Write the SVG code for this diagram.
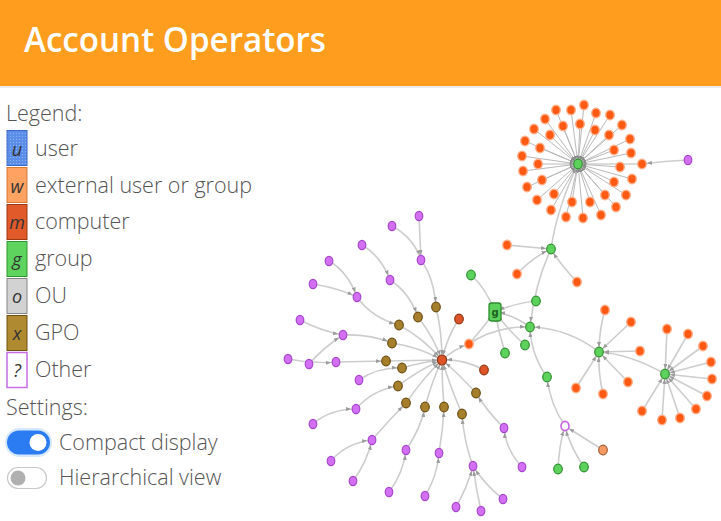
<svg xmlns="http://www.w3.org/2000/svg" width="721" height="521" viewBox="0 0 721 521">
<style>
.e{fill:none;stroke:#cdcdcd;stroke-width:1.6;marker-end:url(#arr)}
.et{fill:none;stroke:#b9b9b9;stroke-width:1;marker-end:url(#arrs)}
.ext{fill:#ff5a14;stroke:#ffae88;stroke-width:1.4}
.grp{fill:#5cd15c;stroke:#2f8f2f;stroke-width:1.2}
.cmp{fill:#dd5428;stroke:#8e3412;stroke-width:1.2}
.gpo{fill:#a67f2c;stroke:#6b4d12;stroke-width:1.2}
.oth{fill:#d36ff2;stroke:#a646cc;stroke-width:1.2}
.hol{fill:#fff;stroke:#c55fe6;stroke-width:1.6}
.lext{fill:#f59a63;stroke:#a05a30;stroke-width:1.2}
.lt{font-family:"Open Sans","Noto Sans","DejaVu Sans",sans-serif;font-weight:300;font-size:21.5px;fill:#555}
.bl{font-family:"Open Sans","Noto Sans",sans-serif;font-style:italic;font-size:18px;fill:#333;text-anchor:middle}
</style>
<defs>
<marker id="arr" viewBox="0 0 5 4" refX="10" refY="2" markerWidth="5" markerHeight="4" markerUnits="userSpaceOnUse" orient="auto"><path d="M0,0 L5,2 L0,4z" fill="#9c9c9c"/></marker>
<marker id="arrs" viewBox="0 0 4 3" refX="8.5" refY="1.5" markerWidth="4" markerHeight="3" markerUnits="userSpaceOnUse" orient="auto"><path d="M0,0 L4,1.5 L0,3z" fill="#8a8a8a"/></marker>
<pattern id="dots" width="3" height="3" patternUnits="userSpaceOnUse"><rect width="3" height="3" fill="#5b8ee8"/><rect x="1" y="1" width="1" height="1" fill="#8fb4f4"/></pattern>
</defs>
<rect width="721" height="521" fill="#fff"/>
<g id="header">
<rect x="0" y="0" width="721" height="86" fill="#ff9d1e"/>
<rect x="0" y="86" width="721" height="2" fill="#ececec"/>
<text x="24" y="52" font-family="'Open Sans','Noto Sans',sans-serif" font-weight="600" font-size="34" fill="#fff" textLength="302" lengthAdjust="spacingAndGlyphs">Account Operators</text>
</g>
<g id="legend">
<text class="lt" x="6" y="121">Legend:</text>
<rect x="7" y="130.5" width="20" height="35" fill="url(#dots)" stroke="#3a68c4"/>
<text class="bl" x="17" y="156">u</text><text class="lt" x="35" y="156">user</text>
<rect x="7" y="167.5" width="20" height="35" fill="#ffa262" stroke="#d97a34"/>
<text class="bl" x="17" y="193">w</text><text class="lt" x="35" y="193">external user or group</text>
<rect x="7" y="204.5" width="20" height="35" fill="#e05a2a" stroke="#9e3a12"/>
<text class="bl" x="17" y="229">m</text><text class="lt" x="35" y="229">computer</text>
<rect x="7" y="241.5" width="20" height="35" fill="#5ed45e" stroke="#2e962e"/>
<text class="bl" x="17" y="266">g</text><text class="lt" x="35" y="266">group</text>
<rect x="7" y="278.5" width="20" height="35" fill="#d2d2d2" stroke="#858585"/>
<text class="bl" x="17" y="303">o</text><text class="lt" x="35" y="303">OU</text>
<rect x="7" y="315.5" width="20" height="35" fill="#b08a30" stroke="#6e5010"/>
<text class="bl" x="17" y="340">x</text><text class="lt" x="35" y="340">GPO</text>
<rect x="7" y="352.5" width="20" height="35" fill="#fff" stroke="#c46ee2" stroke-width="1.5"/>
<text class="bl" x="17" y="377">?</text><text class="lt" x="35" y="377">Other</text>
<text class="lt" x="6" y="415">Settings:</text>
<rect x="5" y="428" width="47" height="29" rx="14.5" fill="#d6e8ff"/>
<rect x="7" y="430.5" width="43" height="24" rx="12" fill="#2b7cf2"/>
<circle cx="38" cy="442.5" r="8.5" fill="#fff"/>
<text class="lt" x="59" y="450">Compact display</text>
<rect x="7.5" y="467.5" width="39" height="21" rx="10.5" fill="#fff" stroke="#c8c8c8" stroke-width="1.2"/>
<circle cx="18" cy="478" r="7.5" fill="#b0b0b0"/>
<text class="lt" x="59" y="485">Hierarchical view</text>
</g>
<g id="connectors">
<path class="et" d="M584,105L578,164"/><path class="et" d="M571,110L578,164"/><path class="et" d="M556,110L578,164"/><path class="et" d="M596,113L578,164"/><path class="et" d="M610,115L578,164"/><path class="et" d="M545,119L578,164"/><path class="et" d="M622,125L578,164"/><path class="et" d="M534,129L578,164"/><path class="et" d="M630,139L578,164"/><path class="et" d="M525,141L578,164"/><path class="et" d="M631,153L578,164"/><path class="et" d="M522,156L578,164"/><path class="et" d="M642,164L578,164"/><path class="et" d="M523,171L578,164"/><path class="et" d="M632,179L578,164"/><path class="et" d="M527,187L578,164"/><path class="et" d="M626,195L578,164"/><path class="et" d="M537,200L578,164"/><path class="et" d="M616,207L578,164"/><path class="et" d="M551,210L578,164"/><path class="et" d="M601,215L578,164"/><path class="et" d="M566,217L578,164"/><path class="et" d="M583,218L578,164"/>
<path class="et" d="M580,124L578,164"/><path class="et" d="M563,126L578,164"/><path class="et" d="M595,130L578,164"/><path class="et" d="M550,135L578,164"/><path class="et" d="M609,135L578,164"/><path class="et" d="M540,148L578,164"/><path class="et" d="M614,150L578,164"/><path class="et" d="M538,164L578,164"/><path class="et" d="M620,167L578,164"/><path class="et" d="M542,180L578,164"/><path class="et" d="M614,182L578,164"/><path class="et" d="M554,194L578,164"/><path class="et" d="M605,195L578,164"/><path class="et" d="M572,202L578,164"/><path class="et" d="M590,202L578,164"/>
<path class="e" d="M688,160Q665,161 642,164"/>
<path class="e" d="M419,216L421,260"/>
<path class="e" d="M392,226Q414,238 421,260"/>
<path class="e" d="M421,260Q434,278 436,307"/>
<path class="e" d="M362,245Q381,256 390,280"/>
<path class="e" d="M390,280Q409,292 418,317"/>
<path class="e" d="M329,261Q348,272 357,297"/>
<path class="e" d="M313,284Q338,288 357,297"/>
<path class="e" d="M357,297Q372,318 399,325"/>
<path class="e" d="M300,320Q321,331 343,335"/>
<path class="e" d="M309,364Q324,347 343,335"/>
<path class="e" d="M288,359Q312,364 336,362"/>
<path class="e" d="M343,335Q370,334 392,343"/>
<path class="e" d="M336,362L386,361"/>
<path class="e" d="M359,380Q377,367 402,368"/>
<path class="e" d="M313,424Q330,409 356,409"/>
<path class="e" d="M356,409Q372,390 398,386"/>
<path class="e" d="M331,461Q346,443 372,440"/>
<path class="e" d="M353,481Q367,462 372,440"/>
<path class="e" d="M372,440Q389,420 406,403"/>
<path class="e" d="M389,492Q403,474 406,450"/>
<path class="e" d="M406,450Q421,428 425,407"/>
<path class="e" d="M425,496Q437,477 439,453"/>
<path class="e" d="M439,453Q443,430 444,407"/>
<path class="e" d="M456,507Q467,488 473,466"/>
<path class="e" d="M481,511Q476,488 473,466"/>
<path class="e" d="M503,499Q485,485 473,466"/>
<path class="e" d="M473,466Q464,442 462,414"/>
<path class="e" d="M522,467Q506,450 504,428"/>
<path class="e" d="M504,428Q486,410 476,393"/>
<path class="e" d="M436,307Q442,332 442,360"/>
<path class="e" d="M418,317Q433,336 442,360"/>
<path class="e" d="M399,325Q423,338 442,360"/>
<path class="e" d="M392,343Q419,347 442,360"/>
<path class="e" d="M386,361L442,360"/>
<path class="e" d="M402,368Q422,362 442,360"/>
<path class="e" d="M398,386Q420,369 442,360"/>
<path class="e" d="M406,403Q423,378 442,360"/>
<path class="e" d="M425,407Q432,381 442,360"/>
<path class="e" d="M444,407Q442,384 442,360"/>
<path class="e" d="M462,414Q450,386 442,360"/>
<path class="e" d="M476,393Q458,373 442,360"/>
<path class="e" d="M459,319Q447,337 442,360"/>
<path class="e" d="M484,370Q464,359 442,360"/>
<path class="e" d="M442,360Q454,349 469,344"/>
<path class="e" d="M471,275Q486,288 495,312"/>
<path class="e" d="M469,344Q482,329 495,312"/>
<path class="e" d="M505,353Q499,333 495,312"/>
<path class="e" d="M536,301Q514,303 495,312"/>
<path class="e" d="M530,327Q512,314 495,312"/>
<path class="e" d="M525,345Q508,330 495,312"/>
<path class="e" d="M551,249Q535,283 530,327"/>
<path class="e" d="M507,245L551,249"/>
<path class="e" d="M517,274Q533,257 551,249"/>
<path class="e" d="M577,282Q560,264 551,249"/>
<path class="e" d="M551,249Q557,208 578,164"/>
<path class="e" d="M469,344Q495,326 530,327"/>
<path class="e" d="M599,352Q568,328 530,327"/>
<path class="e" d="M665,374Q630,354 599,352"/>
<path class="e" d="M547,377Q531,355 530,327"/>
<path class="e" d="M565,426Q550,404 547,377"/>
<path class="e" d="M558,469Q559,445 565,426"/>
<path class="e" d="M584,467Q570,447 565,426"/>
<path class="e" d="M603,450L565,426"/>
<path class="e" d="M605,310Q599,330 599,352"/>
<path class="e" d="M631,322L599,352"/>
<path class="e" d="M640,351L599,352"/>
<path class="e" d="M628,382L599,352"/>
<path class="e" d="M603,394Q598,373 599,352"/>
<path class="e" d="M576,388L599,352"/>
<path class="e" d="M667,329L665,374"/>
<path class="e" d="M688,334L665,374"/>
<path class="e" d="M703,346L665,374"/>
<path class="e" d="M711,362L665,374"/>
<path class="e" d="M712,379L665,374"/>
<path class="e" d="M707,396L665,374"/>
<path class="e" d="M696,409L665,374"/>
<path class="e" d="M680,418L665,374"/>
<path class="e" d="M662,420L665,374"/>
<path class="e" d="M642,411L665,374"/>
</g>
<g id="nodes">
<g id="top-hub"><ellipse class="grp" cx="578" cy="164" rx="4.3" ry="4.8"/></g>
<g id="t1"><ellipse class="ext" cx="584" cy="105" rx="4.3" ry="4.8"/></g>
<g id="t2"><ellipse class="ext" cx="571" cy="110" rx="4.3" ry="4.8"/></g>
<g id="t3"><ellipse class="ext" cx="556" cy="110" rx="4.3" ry="4.8"/></g>
<g id="t4"><ellipse class="ext" cx="596" cy="113" rx="4.3" ry="4.8"/></g>
<g id="t5"><ellipse class="ext" cx="610" cy="115" rx="4.3" ry="4.8"/></g>
<g id="t6"><ellipse class="ext" cx="545" cy="119" rx="4.3" ry="4.8"/></g>
<g id="t7"><ellipse class="ext" cx="622" cy="125" rx="4.3" ry="4.8"/></g>
<g id="t8"><ellipse class="ext" cx="534" cy="129" rx="4.3" ry="4.8"/></g>
<g id="t9"><ellipse class="ext" cx="630" cy="139" rx="4.3" ry="4.8"/></g>
<g id="t10"><ellipse class="ext" cx="525" cy="141" rx="4.3" ry="4.8"/></g>
<g id="t11"><ellipse class="ext" cx="631" cy="153" rx="4.3" ry="4.8"/></g>
<g id="t12"><ellipse class="ext" cx="522" cy="156" rx="4.3" ry="4.8"/></g>
<g id="t13"><ellipse class="ext" cx="642" cy="164" rx="4.3" ry="4.8"/></g>
<g id="t14"><ellipse class="ext" cx="523" cy="171" rx="4.3" ry="4.8"/></g>
<g id="t15"><ellipse class="ext" cx="632" cy="179" rx="4.3" ry="4.8"/></g>
<g id="t16"><ellipse class="ext" cx="527" cy="187" rx="4.3" ry="4.8"/></g>
<g id="t17"><ellipse class="ext" cx="626" cy="195" rx="4.3" ry="4.8"/></g>
<g id="t18"><ellipse class="ext" cx="537" cy="200" rx="4.3" ry="4.8"/></g>
<g id="t19"><ellipse class="ext" cx="616" cy="207" rx="4.3" ry="4.8"/></g>
<g id="t20"><ellipse class="ext" cx="551" cy="210" rx="4.3" ry="4.8"/></g>
<g id="t21"><ellipse class="ext" cx="601" cy="215" rx="4.3" ry="4.8"/></g>
<g id="t22"><ellipse class="ext" cx="566" cy="217" rx="4.3" ry="4.8"/></g>
<g id="t23"><ellipse class="ext" cx="583" cy="218" rx="4.3" ry="4.8"/></g>
<g id="t24"><ellipse class="ext" cx="580" cy="124" rx="4.3" ry="4.8"/></g>
<g id="t25"><ellipse class="ext" cx="563" cy="126" rx="4.3" ry="4.8"/></g>
<g id="t26"><ellipse class="ext" cx="595" cy="130" rx="4.3" ry="4.8"/></g>
<g id="t27"><ellipse class="ext" cx="550" cy="135" rx="4.3" ry="4.8"/></g>
<g id="t28"><ellipse class="ext" cx="609" cy="135" rx="4.3" ry="4.8"/></g>
<g id="t29"><ellipse class="ext" cx="540" cy="148" rx="4.3" ry="4.8"/></g>
<g id="t30"><ellipse class="ext" cx="614" cy="150" rx="4.3" ry="4.8"/></g>
<g id="t31"><ellipse class="ext" cx="538" cy="164" rx="4.3" ry="4.8"/></g>
<g id="t32"><ellipse class="ext" cx="620" cy="167" rx="4.3" ry="4.8"/></g>
<g id="t33"><ellipse class="ext" cx="542" cy="180" rx="4.3" ry="4.8"/></g>
<g id="t34"><ellipse class="ext" cx="614" cy="182" rx="4.3" ry="4.8"/></g>
<g id="t35"><ellipse class="ext" cx="554" cy="194" rx="4.3" ry="4.8"/></g>
<g id="t36"><ellipse class="ext" cx="605" cy="195" rx="4.3" ry="4.8"/></g>
<g id="t37"><ellipse class="ext" cx="572" cy="202" rx="4.3" ry="4.8"/></g>
<g id="t38"><ellipse class="ext" cx="590" cy="202" rx="4.3" ry="4.8"/></g>
<g id="t39"><ellipse class="oth" cx="688" cy="160" rx="3.8" ry="4.6"/></g>
<g id="hub"><ellipse class="cmp" cx="442" cy="360" rx="4.6" ry="5"/></g>
<g id="c1"><ellipse class="cmp" cx="459" cy="319" rx="4.3" ry="4.8"/></g>
<g id="c2"><ellipse class="cmp" cx="484" cy="370" rx="4.3" ry="4.8"/></g>
<g id="b1"><ellipse class="gpo" cx="436" cy="307" rx="4.3" ry="4.8"/></g>
<g id="b2"><ellipse class="gpo" cx="418" cy="317" rx="4.3" ry="4.8"/></g>
<g id="b3"><ellipse class="gpo" cx="399" cy="325" rx="4.3" ry="4.8"/></g>
<g id="b4"><ellipse class="gpo" cx="392" cy="343" rx="4.3" ry="4.8"/></g>
<g id="b5"><ellipse class="gpo" cx="386" cy="361" rx="4.3" ry="4.8"/></g>
<g id="b6"><ellipse class="gpo" cx="402" cy="368" rx="4.3" ry="4.8"/></g>
<g id="b7"><ellipse class="gpo" cx="398" cy="386" rx="4.3" ry="4.8"/></g>
<g id="b8"><ellipse class="gpo" cx="406" cy="403" rx="4.3" ry="4.8"/></g>
<g id="b9"><ellipse class="gpo" cx="425" cy="407" rx="4.3" ry="4.8"/></g>
<g id="b10"><ellipse class="gpo" cx="444" cy="407" rx="4.3" ry="4.8"/></g>
<g id="b11"><ellipse class="gpo" cx="462" cy="414" rx="4.3" ry="4.8"/></g>
<g id="b12"><ellipse class="gpo" cx="476" cy="393" rx="4.3" ry="4.8"/></g>
<g id="p1"><ellipse class="oth" cx="419" cy="216" rx="3.8" ry="4.6"/></g>
<g id="p2"><ellipse class="oth" cx="392" cy="226" rx="3.8" ry="4.6"/></g>
<g id="p3"><ellipse class="oth" cx="362" cy="245" rx="3.8" ry="4.6"/></g>
<g id="p4"><ellipse class="oth" cx="421" cy="260" rx="3.8" ry="4.6"/></g>
<g id="p5"><ellipse class="oth" cx="329" cy="261" rx="3.8" ry="4.6"/></g>
<g id="p6"><ellipse class="oth" cx="390" cy="280" rx="3.8" ry="4.6"/></g>
<g id="p7"><ellipse class="oth" cx="313" cy="284" rx="3.8" ry="4.6"/></g>
<g id="p8"><ellipse class="oth" cx="357" cy="297" rx="3.8" ry="4.6"/></g>
<g id="p9"><ellipse class="oth" cx="300" cy="320" rx="3.8" ry="4.6"/></g>
<g id="p10"><ellipse class="oth" cx="343" cy="335" rx="3.8" ry="4.6"/></g>
<g id="p11"><ellipse class="oth" cx="288" cy="359" rx="3.8" ry="4.6"/></g>
<g id="p12"><ellipse class="oth" cx="309" cy="364" rx="3.8" ry="4.6"/></g>
<g id="p13"><ellipse class="oth" cx="336" cy="362" rx="3.8" ry="4.6"/></g>
<g id="p14"><ellipse class="oth" cx="359" cy="380" rx="3.8" ry="4.6"/></g>
<g id="p15"><ellipse class="oth" cx="356" cy="409" rx="3.8" ry="4.6"/></g>
<g id="p16"><ellipse class="oth" cx="313" cy="424" rx="3.8" ry="4.6"/></g>
<g id="p17"><ellipse class="oth" cx="372" cy="440" rx="3.8" ry="4.6"/></g>
<g id="p18"><ellipse class="oth" cx="406" cy="450" rx="3.8" ry="4.6"/></g>
<g id="p19"><ellipse class="oth" cx="439" cy="453" rx="3.8" ry="4.6"/></g>
<g id="p20"><ellipse class="oth" cx="504" cy="428" rx="3.8" ry="4.6"/></g>
<g id="p21"><ellipse class="oth" cx="522" cy="467" rx="3.8" ry="4.6"/></g>
<g id="p22"><ellipse class="oth" cx="473" cy="466" rx="3.8" ry="4.6"/></g>
<g id="p23"><ellipse class="oth" cx="331" cy="461" rx="3.8" ry="4.6"/></g>
<g id="p24"><ellipse class="oth" cx="353" cy="481" rx="3.8" ry="4.6"/></g>
<g id="p25"><ellipse class="oth" cx="389" cy="492" rx="3.8" ry="4.6"/></g>
<g id="p26"><ellipse class="oth" cx="425" cy="496" rx="3.8" ry="4.6"/></g>
<g id="p27"><ellipse class="oth" cx="456" cy="507" rx="3.8" ry="4.6"/></g>
<g id="p28"><ellipse class="oth" cx="481" cy="511" rx="3.8" ry="4.6"/></g>
<g id="p29"><ellipse class="oth" cx="503" cy="499" rx="3.8" ry="4.6"/></g>
<g id="account-operators"><rect x="489" y="303" width="12" height="18" rx="2.5" fill="#5cd15c" stroke="#2f8f2f" stroke-width="1.3"/><text x="495" y="316" font-family="'DejaVu Sans',sans-serif" font-size="10" font-weight="bold" fill="#1f5f1f" text-anchor="middle">g</text></g>
<g id="g1"><ellipse class="grp" cx="551" cy="249" rx="4.3" ry="4.8"/></g>
<g id="g2"><ellipse class="grp" cx="471" cy="275" rx="4.3" ry="4.8"/></g>
<g id="g3"><ellipse class="grp" cx="536" cy="301" rx="4.3" ry="4.8"/></g>
<g id="g4"><ellipse class="grp" cx="530" cy="327" rx="4.3" ry="4.8"/></g>
<g id="g5"><ellipse class="grp" cx="525" cy="345" rx="4.3" ry="4.8"/></g>
<g id="g6"><ellipse class="grp" cx="505" cy="353" rx="4.3" ry="4.8"/></g>
<g id="g7"><ellipse class="grp" cx="547" cy="377" rx="4.3" ry="4.8"/></g>
<g id="g8"><ellipse class="grp" cx="558" cy="469" rx="4.3" ry="4.8"/></g>
<g id="g9"><ellipse class="grp" cx="584" cy="467" rx="4.3" ry="4.8"/></g>
<g id="hub2"><ellipse class="grp" cx="599" cy="352" rx="4.3" ry="4.8"/></g>
<g id="hub3"><ellipse class="grp" cx="665" cy="374" rx="4.3" ry="4.8"/></g>
<g id="o1"><ellipse class="ext" cx="507" cy="245" rx="4.3" ry="4.8"/></g>
<g id="o2"><ellipse class="ext" cx="517" cy="274" rx="4.3" ry="4.8"/></g>
<g id="o3"><ellipse class="ext" cx="577" cy="282" rx="4.3" ry="4.8"/></g>
<g id="o4"><ellipse class="ext" cx="469" cy="344" rx="4.3" ry="4.8"/></g>
<g id="o5"><ellipse class="ext" cx="605" cy="310" rx="4.3" ry="4.8"/></g>
<g id="o6"><ellipse class="ext" cx="631" cy="322" rx="4.3" ry="4.8"/></g>
<g id="o7"><ellipse class="ext" cx="640" cy="351" rx="4.3" ry="4.8"/></g>
<g id="o8"><ellipse class="ext" cx="628" cy="382" rx="4.3" ry="4.8"/></g>
<g id="o9"><ellipse class="ext" cx="603" cy="394" rx="4.3" ry="4.8"/></g>
<g id="o10"><ellipse class="ext" cx="576" cy="388" rx="4.3" ry="4.8"/></g>
<g id="o11"><ellipse class="ext" cx="667" cy="329" rx="4.3" ry="4.8"/></g>
<g id="o12"><ellipse class="ext" cx="688" cy="334" rx="4.3" ry="4.8"/></g>
<g id="o13"><ellipse class="ext" cx="703" cy="346" rx="4.3" ry="4.8"/></g>
<g id="o14"><ellipse class="ext" cx="711" cy="362" rx="4.3" ry="4.8"/></g>
<g id="o15"><ellipse class="ext" cx="712" cy="379" rx="4.3" ry="4.8"/></g>
<g id="o16"><ellipse class="ext" cx="707" cy="396" rx="4.3" ry="4.8"/></g>
<g id="o17"><ellipse class="ext" cx="696" cy="409" rx="4.3" ry="4.8"/></g>
<g id="o18"><ellipse class="ext" cx="680" cy="418" rx="4.3" ry="4.8"/></g>
<g id="o19"><ellipse class="ext" cx="662" cy="420" rx="4.3" ry="4.8"/></g>
<g id="o20"><ellipse class="ext" cx="642" cy="411" rx="4.3" ry="4.8"/></g>
<g id="hollow"><ellipse class="hol" cx="565" cy="426" rx="4" ry="4.6"/></g>
<g id="lo1"><ellipse class="lext" cx="603" cy="450" rx="4.3" ry="4.8"/></g>
</g>
</svg>
